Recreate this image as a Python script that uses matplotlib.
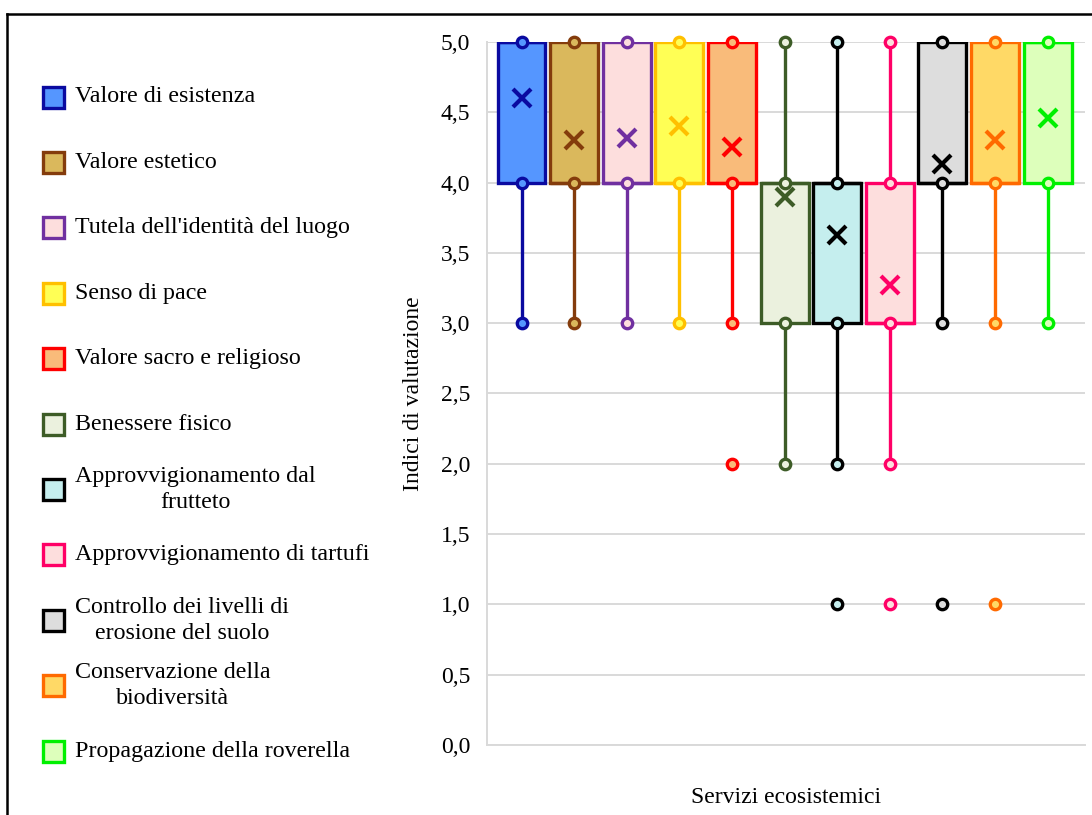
import numpy as np
import matplotlib.pyplot as plt
from matplotlib.patches import Rectangle
from matplotlib.lines import Line2D

plt.rcParams['font.family'] = ['Liberation Serif', 'DejaVu Serif']

labels = ["Valore di esistenza", "Valore estetico", "Tutela dell'identità del luogo",
          "Senso di pace", "Valore sacro e religioso", "Benessere fisico",
          "Approvvigionamento dal\nfrutteto", "Approvvigionamento di tartufi",
          "Controllo dei livelli di\nerosione del suolo", "Conservazione della\nbiodiversità",
          "Propagazione della roverella"]
q1 = [4, 4, 4, 4, 4, 3, 3, 3, 4, 4, 4]
q3 = [5, 5, 5, 5, 5, 4, 4, 4, 5, 5, 5]
medians = [5, 4, 4, 4, 4, 4, 4, 3, 4, 4, 5]
whislo = [3, 3, 3, 3, 3, 2, 2, 2, 3, 3, 3]
whishi = [5, 5, 5, 5, 5, 5, 5, 5, 5, 5, 5]
means = [4.6, 4.3, 4.32, 4.4, 4.25, 3.9, 3.63, 3.27, 4.13, 4.3, 4.46]
points = [[3, 4, 5], [3, 4, 5], [3, 4, 5], [3, 4, 5], [2, 3, 4, 5], [2, 3, 4, 5],
          [1, 2, 3, 4, 5], [1, 2, 3, 4, 5], [1, 3, 4, 5], [1, 3, 4, 5], [3, 4, 5]]

edge_colors = ["#0A0AA0", "#843C0C", "#7030A0", "#FFC000", "#FF0000", "#3D5C27",
               "#000000", "#FF0066", "#000000", "#FF6A00", "#00F000"]
face_colors = ["#5596FF", "#DAB85C", "#FDDEDD", "#FFFF55", "#F9BB7A", "#EBF1DE",
               "#C5EEEE", "#FDDEDD", "#DDDDDD", "#FFD966", "#DDFFBB"]

fig = plt.figure(figsize=(10.92, 8.15), dpi=100)
ax = fig.add_axes([0.446, 0.0859, 0.5476, 0.8626])

for i in range(len(labels)):
    st = [dict(med=medians[i], q1=q1[i], q3=q3[i], whislo=whislo[i], whishi=whishi[i],
               mean=means[i], fliers=[])]
    ec = edge_colors[i]
    ax.bxp(st, positions=[i], widths=0.91, patch_artist=True, showcaps=False,
           showmeans=True, showfliers=False,
           boxprops=dict(facecolor=face_colors[i], edgecolor=ec, linewidth=2.4),
           whiskerprops=dict(color=ec, linewidth=2.4),
           medianprops=dict(color=ec, linewidth=2.4),
           meanprops=dict(marker='x', markeredgecolor=ec, markersize=13, markeredgewidth=3),
           manage_ticks=False)
    ax.plot([i] * len(points[i]), points[i], 'o', ms=7.5, mec=ec, mfc=face_colors[i],
            mew=2.4, clip_on=False, zorder=5)

ax.set_xlim(-0.656, 10.71)
ax.set_ylim(0, 5)
ticks = np.arange(0, 5.01, 0.5)
ax.set_yticks(ticks)
ax.set_yticklabels([f"{v:.1f}".replace('.', ',') for v in ticks], fontsize=17)
ax.set_xticks([])
ax.tick_params(axis='y', length=0, pad=12)
ax.yaxis.grid(True, color='#D9D9D9', linewidth=1.4, zorder=0)
ax.set_axisbelow(True)
for s in ['top', 'right']:
    ax.spines[s].set_visible(False)
for s in ['left', 'bottom']:
    ax.spines[s].set_color('#D9D9D9')
    ax.spines[s].set_linewidth(1.4)
ax.set_ylabel("Indici di valutazione", fontsize=17, labelpad=12)
ax.set_xlabel("Servizi ecosistemici", fontsize=17, labelpad=30)

# legend drawn by hand so that every entry has the same spacing
for i, lab in enumerate(labels):
    yc = 1 - (97 + i * 65.4) / 815
    fig.add_artist(Rectangle((43 / 1092, yc - 10.5 / 815), 21 / 1092, 21 / 815,
                             transform=fig.transFigure, facecolor=face_colors[i],
                             edgecolor=edge_colors[i], linewidth=2.4))
    fig.text(75 / 1092, yc, lab, fontsize=17.3, ha='left', va='center',
             multialignment='center', linespacing=1.3)

# frame round the picture
fig.add_artist(Line2D([7 / 1092, 1], [1 - 14 / 815, 1 - 14 / 815], color='black', lw=1.8,
                      transform=fig.transFigure))
fig.add_artist(Line2D([7 / 1092, 7 / 1092], [0, 1 - 14 / 815], color='black', lw=1.8,
                      transform=fig.transFigure))

fig.savefig("out.png", dpi=100)
